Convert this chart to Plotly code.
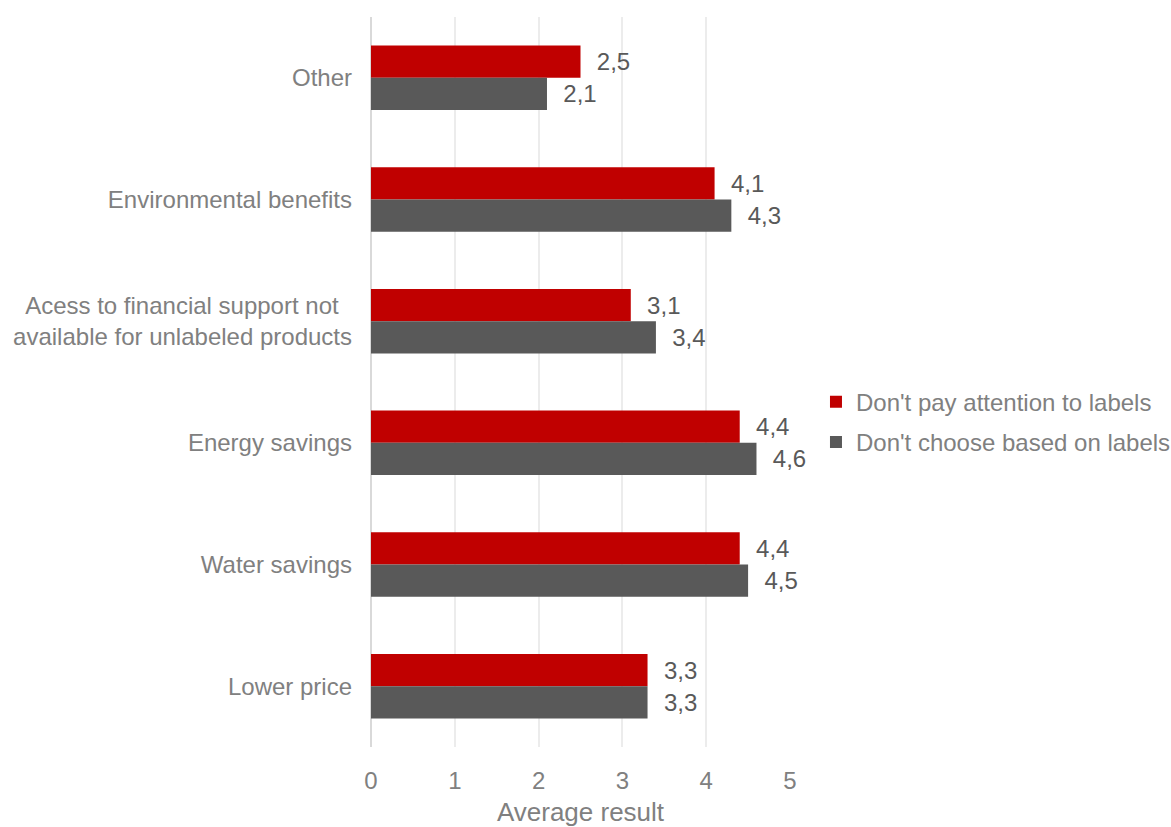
import plotly.graph_objects as go

# Reasons, listed top to bottom
categories = [
    "Other",
    "Environmental benefits",
    "Acess to financial support not\u00a0\u00a0<br>available for unlabeled products",
    "Energy savings",
    "Water savings",
    "Lower price",
]

series_names = ["Don't pay attention to labels", "Don't choose based on labels"]
no_attention = [2.5, 4.1, 3.1, 4.4, 4.4, 3.3]
no_choice = [2.1, 4.3, 3.4, 4.6, 4.5, 3.3]

x_ticks = [0, 1, 2, 3, 4, 5]

RED = "#C00000"
GREY = "#595959"
FONT = "Liberation Sans, Arial, sans-serif"

fig = go.Figure()
for name, vals, color, grp in [
    (series_names[0], no_attention, RED, "a"),
    (series_names[1], no_choice, GREY, "b"),
]:
    fig.add_trace(go.Bar(
        y=categories,
        x=vals,
        name=name,
        orientation="h",
        marker=dict(color=color, line=dict(width=0)),
        texttemplate="\u00a0\u00a0%{x:.1f}",
        textposition="outside",
        textfont=dict(family=FONT, size=24, color="#595959"),
        cliponaxis=False,
        constraintext="none",
        legendgroup=grp,
    ))

fig.update_layout(
    width=1171,
    height=827,
    margin=dict(l=371, r=381, t=17, b=80, autoexpand=False),
    paper_bgcolor="white",
    plot_bgcolor="white",
    separators=",.",
    barmode="group",
    bargap=0.47,
    bargroupgap=0,
    font=dict(family=FONT, size=24, color="#808080"),
    showlegend=True,
    legend=dict(
        x=1.062,
        y=0.445,
        xanchor="left",
        yanchor="middle",
        traceorder="grouped",
        tracegroupgap=6,
        font=dict(family=FONT, size=24, color="#808080"),
        itemwidth=30,
        bgcolor="rgba(0,0,0,0)",
    ),
    xaxis=dict(
        range=[0, 5],
        tickvals=x_ticks,
        ticktext=[str(t) for t in x_ticks],
        showgrid=True,
        gridcolor="#ececec",
        gridwidth=1.5,
        zeroline=True,
        zerolinecolor="#d9d9d9",
        zerolinewidth=1.5,
        showline=False,
        ticks="",
        ticklabelstandoff=17,
        tickfont=dict(family=FONT, size=24, color="#808080"),
        title=dict(text="Average result", font=dict(family=FONT, size=26, color="#808080"), standoff=14),
    ),
    yaxis=dict(
        autorange="reversed",
        showgrid=False,
        zeroline=False,
        showline=False,
        ticks="",
        ticklabelstandoff=18,
        tickfont=dict(family=FONT, size=24, color="#808080"),
    ),
)

fig.write_html("out.html")
